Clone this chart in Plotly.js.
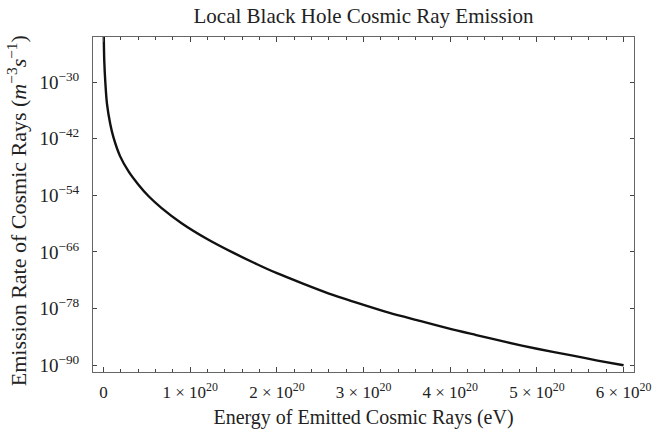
<!DOCTYPE html>
<html>
<head>
<meta charset="utf-8">
<script src="https://cdn.plot.ly/plotly-3.0.1.min.js"></script>
<style>html,body{margin:0;padding:0;background:#fff;}#chart{width:653px;height:435px;}</style>
</head>
<body>
<div id="chart"></div>
<script>
// Energy of emitted cosmic rays, in units of 1e20 eV
const energy1e20 = [0.001, 0.003, 0.008, 0.02, 0.039, 0.077, 0.115, 0.19, 0.29, 0.4, 0.52, 0.67, 0.9, 1.2, 1.5, 1.77, 2.0, 2.3, 2.6, 3.0, 3.3, 3.65, 4.0, 4.3, 4.65, 5.0, 5.4, 5.7, 6.0];
// log10 of emission rate (m^-3 s^-1)
const logRate = [-17, -21, -25.5, -30, -34.6, -38.9, -41.8, -45.7, -49.0, -51.7, -54.2, -56.7, -59.9, -63.3, -66.2, -68.6, -70.5, -72.7, -74.8, -77.2, -78.9, -80.6, -82.3, -83.6, -85.1, -86.5, -87.9, -89.0, -90.0];

const xTickVals = [0, 1e20, 2e20, 3e20, 4e20, 5e20, 6e20];
const xTickText = ['0', '1 × 10<sup>20</sup>', '2 × 10<sup>20</sup>', '3 × 10<sup>20</sup>', '4 × 10<sup>20</sup>', '5 × 10<sup>20</sup>', '6 × 10<sup>20</sup>'];
const yTickExp = [-30, -42, -54, -66, -78, -90];

const xs = energy1e20.map(e => e * 1e20);
const ys = logRate.map(l => Math.pow(10, l));

const font = {family: '"Liberation Serif", "Times New Roman", serif', color: '#222'};
const axisCommon = {
  showgrid: false, zeroline: false, showline: true, linecolor: '#666', linewidth: 1,
  mirror: 'ticks', ticks: 'inside', tickcolor: '#444', tickwidth: 1
};

Plotly.newPlot('chart', [{
  x: xs, y: ys, type: 'scatter', mode: 'lines',
  line: {color: '#111', width: 2.4, shape: 'spline', smoothing: 0.7},
  hoverinfo: 'skip'
}], {
  width: 653, height: 435,
  margin: {l: 93, r: 19, t: 37, b: 63},
  paper_bgcolor: '#fff', plot_bgcolor: '#fff',
  showlegend: false,
  font: Object.assign({size: 17}, font),
  title: {text: 'Local Black Hole Cosmic Ray Emission', font: Object.assign({size: 21}, font), x: 0.5567, xanchor: 'center', y: 0.963, yanchor: 'middle'},
  xaxis: Object.assign({}, axisCommon, {
    range: [-0.122e20, 6.12e20],
    tickvals: xTickVals, ticktext: xTickText, ticklen: 5,
    tickfont: Object.assign({size: 17}, font),
    ticklabelstandoff: 5,
    minor: {dtick: 0.2e20, tick0: 0, ticks: 'inside', ticklen: 3, tickcolor: '#444', showgrid: false},
    title: {text: 'Energy of Emitted Cosmic Rays (eV)', font: Object.assign({size: 20}, font), standoff: 8}
  }),
  yaxis: Object.assign({}, axisCommon, {
    type: 'log',
    range: [-91.42, -20.47],
    tickvals: yTickExp.map(e => Math.pow(10, e)),
    ticktext: yTickExp.map(e => '10<sup>−' + Math.abs(e) + '</sup>'),
    ticklen: 4,
    ticklabelstandoff: 9,
    tickfont: Object.assign({size: 19}, font)
  }),
  annotations: [{
    text: 'Emission Rate of Cosmic Rays (<i>m</i><sup>−3</sup><i>s</i><sup>−1</sup>)',
    font: Object.assign({size: 22}, font),
    textangle: -90, showarrow: false,
    xref: 'paper', yref: 'paper', x: -0.1404, y: 0.48,
    xanchor: 'center', yanchor: 'middle'
  }]
}, {displayModeBar: false, staticPlot: true});
</script>
</body>
</html>
